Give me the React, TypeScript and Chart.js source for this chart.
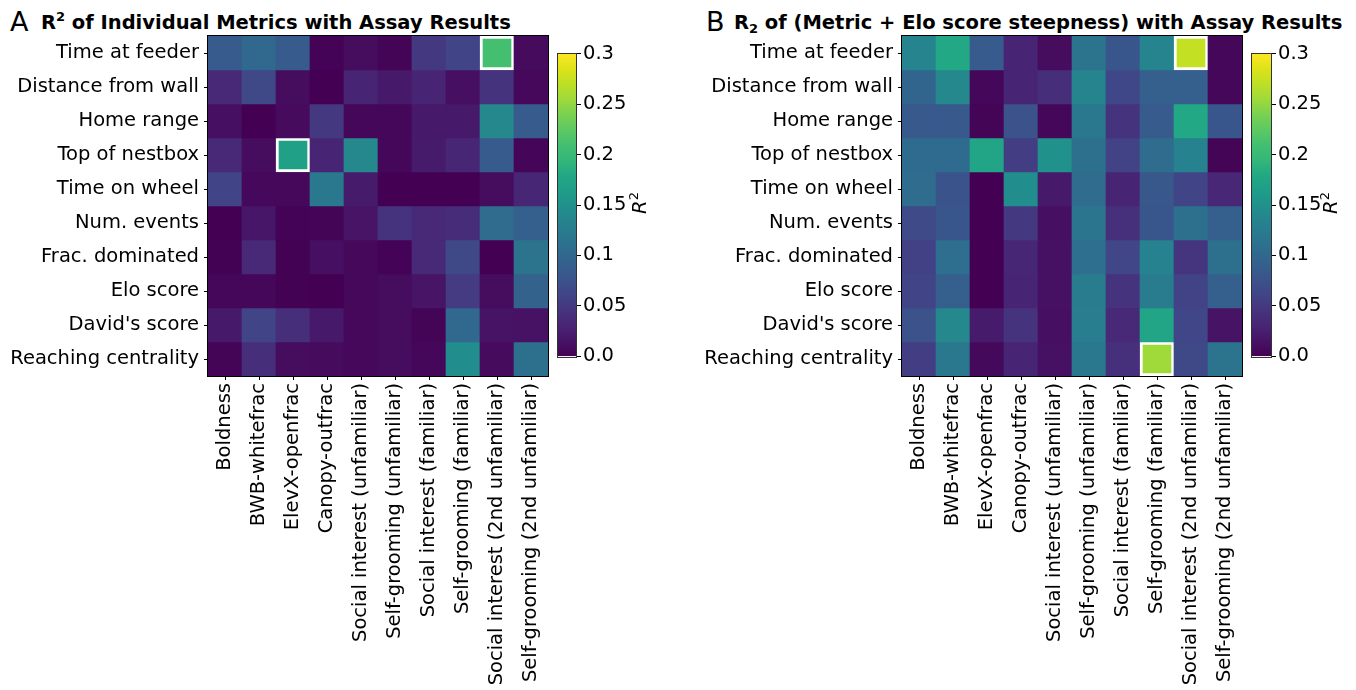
import React, { useEffect, useRef } from "react";
import { Chart, registerables } from "chart.js";

Chart.register(...registerables);

const rowLabels = [
  "Time at feeder",
  "Distance from wall",
  "Home range",
  "Top of nestbox",
  "Time on wheel",
  "Num. events",
  "Frac. dominated",
  "Elo score",
  "David's score",
  "Reaching centrality",
];

const colLabels = [
  "Boldness",
  "BWB-whitefrac",
  "ElevX-openfrac",
  "Canopy-outfrac",
  "Social interest (unfamiliar)",
  "Self-grooming (unfamiliar)",
  "Social interest (familiar)",
  "Self-grooming (familiar)",
  "Social interest (2nd unfamiliar)",
  "Self-grooming (2nd unfamiliar)",
];

// Panel A: R^2 of individual metrics with assay results
const valuesA = [
  [0.085, 0.1, 0.085, 0.002, 0.01, 0.003, 0.05, 0.06, 0.21, 0.008],
  [0.035, 0.065, 0.01, 0.0, 0.03, 0.02, 0.03, 0.012, 0.045, 0.006],
  [0.012, 0.0, 0.008, 0.05, 0.005, 0.005, 0.02, 0.02, 0.14, 0.085],
  [0.035, 0.01, 0.17, 0.03, 0.14, 0.005, 0.022, 0.032, 0.085, 0.004],
  [0.06, 0.006, 0.006, 0.12, 0.022, 0.0, 0.0, 0.0, 0.01, 0.032],
  [0.0, 0.018, 0.002, 0.003, 0.016, 0.045, 0.035, 0.038, 0.105, 0.09],
  [0.001, 0.035, 0.001, 0.012, 0.006, 0.002, 0.035, 0.065, 0.0, 0.115],
  [0.005, 0.005, 0.001, 0.0, 0.006, 0.01, 0.016, 0.052, 0.01, 0.095],
  [0.02, 0.06, 0.04, 0.02, 0.006, 0.01, 0.003, 0.1, 0.015, 0.014],
  [0.003, 0.04, 0.01, 0.008, 0.006, 0.01, 0.005, 0.145, 0.008, 0.11],
];

// Panel B: R^2 of (metric + Elo score steepness) with assay results
const valuesB = [
  [0.135, 0.18, 0.085, 0.03, 0.01, 0.115, 0.08, 0.135, 0.273, 0.005],
  [0.097, 0.14, 0.005, 0.03, 0.04, 0.135, 0.063, 0.09, 0.09, 0.005],
  [0.083, 0.083, 0.003, 0.075, 0.005, 0.12, 0.045, 0.085, 0.18, 0.08],
  [0.104, 0.104, 0.175, 0.055, 0.15, 0.11, 0.058, 0.105, 0.133, 0.003],
  [0.105, 0.077, 0.0, 0.145, 0.02, 0.105, 0.03, 0.082, 0.06, 0.033],
  [0.066, 0.08, 0.0, 0.05, 0.012, 0.117, 0.042, 0.08, 0.11, 0.09],
  [0.057, 0.107, 0.0, 0.032, 0.013, 0.108, 0.062, 0.132, 0.047, 0.11],
  [0.06, 0.09, 0.0, 0.03, 0.013, 0.125, 0.045, 0.125, 0.058, 0.09],
  [0.075, 0.14, 0.022, 0.045, 0.012, 0.127, 0.035, 0.175, 0.062, 0.015],
  [0.055, 0.12, 0.007, 0.03, 0.013, 0.12, 0.042, 0.255, 0.065, 0.115],
];

// highlighted cells [row, col]
const highlightA = [
  [0, 8],
  [3, 2],
];
const highlightB = [
  [0, 8],
  [9, 7],
];

const vmin = 0;
const vmax = 0.3;
const cbTickValues = [0, 0.05, 0.1, 0.15, 0.2, 0.25, 0.3];
const cbTickLabels = ["0.0", "0.05", "0.1", "0.15", "0.2", "0.25", "0.3"];

const VIRIDIS = [
  "#440154", "#471365", "#482475", "#46337e", "#414487", "#3b528b",
  "#355f8d", "#2f6c8e", "#2a788e", "#25848e", "#21918c", "#1f9e89",
  "#22a884", "#35b779", "#44bf70", "#5ec962", "#7ad151", "#9fda3a",
  "#bddf26", "#dde318", "#fde725",
];

function hexToRgb(h: string) {
  return [parseInt(h.slice(1, 3), 16), parseInt(h.slice(3, 5), 16), parseInt(h.slice(5, 7), 16)];
}

function viridis(t: number) {
  const x = Math.max(0, Math.min(1, t)) * (VIRIDIS.length - 1);
  const i = Math.min(Math.floor(x), VIRIDIS.length - 2);
  const f = x - i;
  const a = hexToRgb(VIRIDIS[i]);
  const b = hexToRgb(VIRIDIS[i + 1]);
  const c = a.map((v, k) => Math.round(v + (b[k] - v) * f));
  return `rgb(${c[0]},${c[1]},${c[2]})`;
}

const FONT = "'DejaVu Sans', sans-serif";
const FS = 19.5;

const framePlugin = (color: string) => ({
  id: "frame",
  afterDatasetsDraw(chart: any) {
    const { ctx, chartArea: a } = chart;
    ctx.save();
    ctx.strokeStyle = color;
    ctx.lineWidth = 1;
    ctx.strokeRect(Math.round(a.left) - 0.5, Math.round(a.top) - 0.5, Math.round(a.right - a.left) + 1, Math.round(a.bottom - a.top) + 1);
    ctx.restore();
  },
});

type HeatProps = {
  values: number[][];
  highlights: number[][];
  left: number;
  width: number;
  yAxisWidth: number;
  plotTop: number;
  plotBottom: number;
  height: number;
  padRight: number;
};

function Heatmap(p: HeatProps) {
  const ref = useRef<HTMLCanvasElement>(null);
  useEffect(() => {
    if (!ref.current) return;
    const isHL = (r: number, c: number) => p.highlights.some((h) => h[0] === r && h[1] === c);
    const datasets = rowLabels.map((name, r) => ({
      label: name,
      data: colLabels.map(() => [r - 0.5, r + 0.5]),
      backgroundColor: p.values[r].map((v) => viridis((v - vmin) / (vmax - vmin))),
      borderColor: "#ffffff",
      borderWidth: colLabels.map((_, c) => (isHL(r, c) ? 3 : 0)),
      borderSkipped: false,
      barPercentage: 1,
      categoryPercentage: 1,
      grouped: false,
    }));
    const chart = new Chart(ref.current, {
      type: "bar",
      data: { labels: colLabels, datasets: datasets as any },
      options: {
        animation: false,
        responsive: false,
        maintainAspectRatio: false,
        layout: { padding: { top: p.plotTop, right: p.padRight, bottom: 0, left: 0 } },
        plugins: { legend: { display: false }, tooltip: { enabled: false } },
        scales: {
          x: {
            type: "category",
            offset: true,
            grid: { offset: false, drawOnChartArea: false, drawTicks: true, tickLength: 4, color: "#000", lineWidth: 1 },
            border: { display: false },
            ticks: {
              autoSkip: false,
              maxRotation: 90,
              minRotation: 90,
              padding: 3,
              color: "#000",
              font: { family: FONT, size: FS },
            },
            afterFit: (s: any) => {
              s.height = p.height - p.plotBottom;
            },
          },
          y: {
            type: "linear",
            reverse: true,
            min: -0.5,
            max: 9.5,
            afterBuildTicks: (s: any) => {
              s.ticks = rowLabels.map((_, i) => ({ value: i }));
            },
            grid: { drawOnChartArea: false, drawTicks: true, tickLength: 4, color: "#000", lineWidth: 1 },
            border: { display: false },
            ticks: {
              padding: 5,
              color: "#000",
              font: { family: FONT, size: FS },
              callback: (v: any) => rowLabels[v as number] ?? "",
            },
            afterFit: (s: any) => {
              s.width = p.yAxisWidth;
            },
          },
        },
      } as any,
      plugins: [framePlugin("#000")],
    });
    return () => chart.destroy();
  }, []);
  return (
    <canvas
      ref={ref}
      width={p.width}
      height={p.height}
      style={{ position: "absolute", left: p.left, top: 0, width: p.width, height: p.height }}
    />
  );
}

type CbProps = { left: number; top: number; width: number; height: number; barLeft: number; barRight: number; barTop: number; barBottom: number };

function Colorbar(p: CbProps) {
  const ref = useRef<HTMLCanvasElement>(null);
  useEffect(() => {
    if (!ref.current) return;
    const chart = new Chart(ref.current, {
      type: "bar",
      data: {
        labels: [""],
        datasets: [
          {
            data: [[vmin, vmax]],
            backgroundColor: (ctx: any) => {
              const area = ctx.chart.chartArea;
              if (!area) return "#000";
              const g = ctx.chart.ctx.createLinearGradient(0, area.bottom, 0, area.top);
              VIRIDIS.forEach((c, i) => g.addColorStop(i / (VIRIDIS.length - 1), c));
              return g;
            },
            borderWidth: 0,
            barPercentage: 1,
            categoryPercentage: 1,
          } as any,
        ],
      },
      options: {
        animation: false,
        responsive: false,
        maintainAspectRatio: false,
        layout: { padding: { top: p.barTop, left: p.barLeft, bottom: p.height - p.barBottom, right: 0 } },
        plugins: { legend: { display: false }, tooltip: { enabled: false } },
        scales: {
          x: { display: false },
          y: {
            position: "right",
            min: vmin,
            max: vmax,
            afterBuildTicks: (s: any) => {
              s.ticks = cbTickValues.map((v) => ({ value: v }));
            },
            grid: { drawOnChartArea: false, drawTicks: true, tickLength: 5, color: "#000", lineWidth: 1 },
            border: { display: false },
            ticks: {
              padding: 2,
              color: "#000",
              font: { family: FONT, size: FS },
              callback: (_v: any, i: number) => cbTickLabels[i],
            },
            afterFit: (s: any) => {
              s.width = p.width - p.barRight;
            },
          },
        },
      } as any,
      plugins: [framePlugin("#333")],
    });
    return () => chart.destroy();
  }, []);
  return (
    <canvas
      ref={ref}
      width={p.width}
      height={p.height}
      style={{ position: "absolute", left: p.left, top: p.top, width: p.width, height: p.height }}
    />
  );
}

function CbLabel({ cx, cy }: { cx: number; cy: number }) {
  return (
    <div
      style={{
        position: "absolute",
        left: cx - 20,
        top: cy - 12,
        width: 40,
        height: 24,
        textAlign: "center",
        fontFamily: FONT,
        fontSize: FS,
        color: "#000",
        transform: "rotate(-90deg)",
        transformOrigin: "center center",
        whiteSpace: "nowrap",
        lineHeight: "24px",
      }}
    >
      <span style={{ fontStyle: "italic" }}>R</span>
      <span style={{ fontSize: 13, position: "relative", top: -8 }}>2</span>
    </div>
  );
}

const titleBase: React.CSSProperties = {
  position: "absolute",
  fontFamily: FONT,
  color: "#000",
  whiteSpace: "nowrap",
};

export default function App() {
  return (
    <div style={{ position: "absolute", left: 0, top: 0, width: 1356, height: 690, background: "#fff", overflow: "hidden" }}>
      <div style={{ ...titleBase, left: 10, top: 7, fontSize: 27, lineHeight: "30px" }}>A</div>
      <div style={{ ...titleBase, left: 41, top: 11, fontSize: FS, fontWeight: "bold", lineHeight: "24px" }}>
        R<span style={{ fontSize: 13, position: "relative", top: -8 }}>2</span> of Individual Metrics with Assay Results
      </div>
      <div style={{ ...titleBase, left: 706, top: 7, fontSize: 27, lineHeight: "30px" }}>B</div>
      <div style={{ ...titleBase, left: 734, top: 11, fontSize: FS, fontWeight: "bold", lineHeight: "24px" }}>
        R<span style={{ fontSize: 13, position: "relative", top: 4 }}>2</span> of (Metric + Elo score steepness) with Assay Results
      </div>
      <Heatmap values={valuesA} highlights={highlightA} left={0} width={560} yAxisWidth={208} plotTop={36} plotBottom={376} height={690} padRight={12} />
      <Colorbar left={550} top={40} width={110} height={330} barLeft={8} barRight={26} barTop={9} barBottom={317} />
      <CbLabel cx={640} cy={203} />
      <Heatmap values={valuesB} highlights={highlightB} left={680} width={576} yAxisWidth={222} plotTop={36} plotBottom={376} height={690} padRight={14} />
      <Colorbar left={1244} top={40} width={112} height={330} barLeft={8} barRight={27} barTop={9} barBottom={317} />
      <CbLabel cx={1331} cy={203} />
    </div>
  );
}
